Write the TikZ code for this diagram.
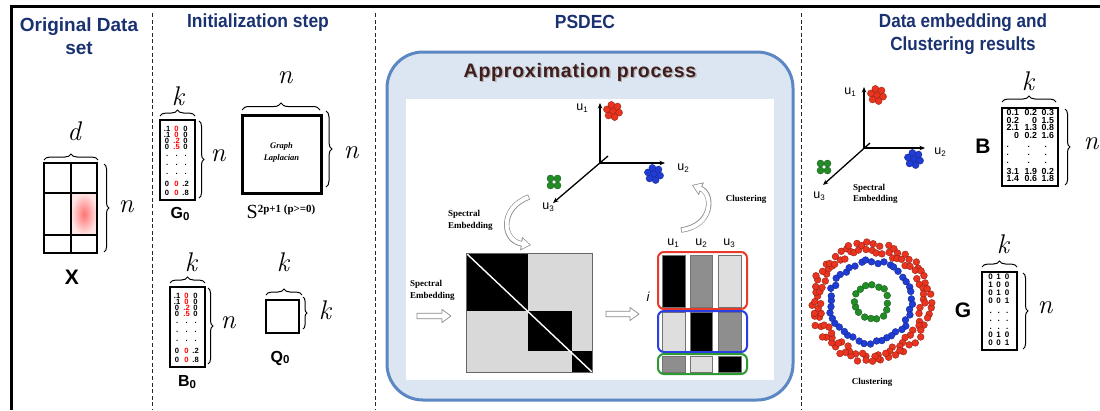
\documentclass[tikz,border=0pt]{standalone}
\usepackage{graphicx}
\usepackage{fontspec}
\setmainfont{Liberation Sans}
\newfontfamily\tnr{Liberation Serif}
\newfontfamily\lmit{Latin Modern Roman}
\newfontfamily\apfont[LetterSpace=4]{Liberation Sans}
\usetikzlibrary{arrows.meta,decorations.pathreplacing,calc}

\definecolor{titleblue}{HTML}{1B3272}
\definecolor{panelfill}{HTML}{DCE6F2}
\definecolor{panelline}{HTML}{5B87C2}
\definecolor{apbrown}{HTML}{3F1D1D}
\definecolor{ptred}{HTML}{EA3420}
\definecolor{ptblue}{HTML}{1F3DD6}
\definecolor{ptgreen}{HTML}{218E25}
\definecolor{bargray}{HTML}{8E8E8E}
\definecolor{barlight}{HTML}{DEDEDE}
\definecolor{blocklight}{HTML}{D9D9D9}
\definecolor{arrgray}{HTML}{8A8A8A}
\definecolor{grpred}{HTML}{E8392A}
\definecolor{grpblue}{HTML}{2B3FE0}
\definecolor{grpgreen}{HTML}{2E9A34}

\newcommand\redv[1]{\textcolor{red}{#1}}
\newcommand\usub[1]{\raisebox{-2.2pt}{\fontsize{8}{8}\selectfont #1}}
\newcommand\bsub[1]{\raisebox{-1.5pt}{\fontsize{11.5}{11.5}\selectfont #1}}

% seven-dot cluster and four-dot cluster
\newcommand\clusterseven[3]{%
  \node[cdot, fill=#3, draw=#3!60!black] (#1-0) at #2 {};
  \foreach \a [count=\j] in {15,75,...,315}
    \node[cdot, fill=#3, draw=#3!60!black] (#1-\j) at ($#2+(\a:6.3)$) {};
}
\newcommand\clusterfour[3]{%
  \foreach \dx/\dy [count=\j] in {-3.5/-3.5,3.5/-3.5,-3.5/3.5,3.5/3.5}
    \node[cdot, fill=#3, draw=#3!60!black] (#1-\j) at ($#2+(\dx,\dy)$) {};
}
% entries of the n x k initial matrices
\newcommand\initrows[1]{%
  \foreach \a/\b/\c/\yy [count=\i] in {.1/\redv{0}/0/10, .1/\redv{0}/0/16, 0/\redv{.2}/0/22, 0/\redv{.5}/0/28, ./././37, ./././46, ./././55, 0/\redv{0}/.2/65.7, 0/\redv{0}/.8/73.8}{%
    \node[ent] (#1-\i-1) at ($(#1.north west)+(8.5,\yy)$) {\a};
    \node[ent] (#1-\i-2) at ($(#1.north west)+(18,\yy)$) {\b};
    \node[ent] (#1-\i-3) at ($(#1.north west)+(27,\yy)$) {\c};
  }%
}
% hollow block arrow between two points on one horizontal line
\newcommand\hollowarr[2]{%
  \path[hollow] let \p1=(#1), \p2=(#2) in
    (\x1,\y1+2.8pt) -- (\x2-9pt,\y1+2.8pt) -- (\x2-9pt,\y1+6.5pt) -- (\x2,\y1)
    -- (\x2-9pt,\y1-6.5pt) -- (\x2-9pt,\y1-2.8pt) -- (\x1,\y1-2.8pt) -- cycle;
}

\begin{document}
\begin{tikzpicture}[x=1pt,y=-1pt,
  title/.style={font=\bfseries\fontsize{19}{22.5}\selectfont, text=titleblue, align=center, inner sep=0},
  sep/.style={line width=0.9pt, dash pattern=on 4pt off 2.6pt, black!85},
  matbox/.style={draw, line width=2.8pt, inner sep=0, fill=white},
  brc/.style={decorate, decoration={brace, amplitude=#1}, line width=1pt},
  brc/.default=5pt,
  mlbl/.style={font=\lmit\itshape\fontsize{27}{27}\selectfont, inner sep=0},
  ent/.style={font=\bfseries\fontsize{7.6}{7.6}\selectfont, inner sep=0},
  entb/.style={font=\bfseries\fontsize{8.8}{8.8}\selectfont, inner sep=0, anchor=east},
  entg/.style={font=\bfseries\fontsize{8}{8}\selectfont, inner sep=0},
  biglbl/.style={font=\bfseries\fontsize{21}{21}\selectfont, inner sep=0},
  sublbl/.style={font=\bfseries\fontsize{16}{16}\selectfont, inner sep=0},
  serlbl/.style={font=\tnr\bfseries\fontsize{9}{12}\selectfont, inner sep=0, align=left},
  ulbl/.style={font=\fontsize{12.5}{12.5}\selectfont, inner sep=0},
  axis/.style={line width=1.3pt, -{Stealth[length=5.5pt,width=4.5pt]}},
  dotp/.style={circle, inner sep=0, minimum size=6.8pt, line width=0.35pt},
  cdot/.style={circle, inner sep=0, minimum size=7pt, line width=0.35pt},
  hollow/.style={draw=arrgray, fill=white, line width=0.7pt, line join=round},
  bar/.style={draw=black!55, line width=0.5pt},
  grp/.style={line width=2pt, rounded corners=6pt, minimum width=89pt, inner sep=0},
]
\useasboundingbox (0,0) rectangle (1100,410);
\fill[white] (0,0) rectangle (1100,410);

% ---------- frame and column separators ----------
\draw[line width=3.5pt] (11.5,410) -- (11.5,6.5) -- (1100,6.5);
\draw[sep] (152,13) -- (152,410);
\draw[sep] (375,13) -- (375,410);
\draw[sep] (801,13) -- (801,410);

% ---------- original data set ----------
\node[title] (t1) at (79,36) {Original Data\\set};
\shade[inner color=red!55!white, outer color=red!10!white] (71,193) rectangle (97,235);
\node[draw, line width=2.5pt, inner sep=0, minimum width=53pt, minimum height=90pt] (X) at (70.5,208) {};
\draw[line width=2.5pt] (71,163) -- (71,253);
\draw[line width=2.5pt] (44,193) -- (97,193);
\draw[line width=2.5pt] (44,235) -- (97,235);
\draw[brc=6pt] (44,160) -- (98,160);
\node[mlbl] (dX) at (74,131) {d};
\draw[brc] (104,164) -- (104,252);
\node[mlbl] (nX) at (126,207) {n};
\node[biglbl] (Xl) at (72,277) {X};

% ---------- initialization step ----------
\node[title] (t2) at (258,23) {\scalebox{0.92}[1]{Initialization step}};

\node[matbox, minimum width=35pt, minimum height=80pt] (G0) at (177.5,160) {};
\initrows{G0}
\draw[brc=6pt] (160,116) -- (195,116);
\node[mlbl] (kG0) at (178,96) {k};
\draw[brc] (199,121) -- (199,198);
\node[mlbl] (nG0) at (218,156) {n};
\node[sublbl] (G0l) at (180,214) {G\bsub{0}};

\node[matbox, line width=3pt, minimum width=79pt, minimum height=78pt] (L) at (281.5,154) {};
\node[font=\tnr\bfseries\itshape\fontsize{8.5}{11.5}\selectfont, align=center, inner sep=0] (Lt) at (281.5,152.5) {Graph\\Laplacian};
\draw[brc=7pt] (242,110) -- (320,110);
\node[mlbl] (nLt) at (285,78) {n};
\draw[brc=6pt] (326,111) -- (326,187);
\node[mlbl] (nLr) at (351,153) {n};
\node[inner sep=0] (Sl) at (281,212) {\tnr\fontsize{20}{20}\selectfont S\raisebox{6pt}{\bfseries\fontsize{11}{11}\selectfont 2p+1 (p>=0)}};

\node[matbox, minimum width=35pt, minimum height=80pt] (B0) at (187.5,327) {};
\initrows{B0}
\draw[brc=6pt] (170,283) -- (205,283);
\node[mlbl] (kB0) at (191,262) {k};
\draw[brc] (208,288) -- (208,364);
\node[mlbl] (nB0) at (228,323) {n};
\node[sublbl] (B0l) at (187,382) {B\bsub{0}};

\node[matbox, minimum width=33pt, minimum height=33pt] (Q0) at (282.5,316.5) {};
\draw[brc=6pt] (266,295) -- (302,295);
\node[mlbl] (kQ0) at (283,262) {k};
\draw[brc=4pt] (303,297) -- (303,329);
\node[mlbl] (kQ0r) at (325,310) {k};
\node[sublbl] (Q0l) at (280,358) {Q\bsub{0}};

% ---------- PSDEC ----------
\node[title] (t3) at (585,22) {\scalebox{0.92}[1]{PSDEC}};
\node[draw=panelline, fill=panelfill, line width=3pt, rounded corners=36pt, minimum width=406pt, minimum height=348pt, inner sep=0] (panel) at (590,226) {};
\node[fill=white, minimum width=368pt, minimum height=281pt, inner sep=0] (canvas) at (590,239.5) {};
\node[font=\apfont\bfseries\fontsize{19.5}{19.5}\selectfont, text=black!30, inner sep=0] (apsh) at (581.3,73.7) {Approximation process};
\node[font=\apfont\bfseries\fontsize{19.5}{19.5}\selectfont, text=apbrown, inner sep=0] (ap) at (580,72) {Approximation process};

% embedding axes
\coordinate (O1) at (600,163);
\coordinate (O1x) at (608,156);
\coordinate (O1a) at (600,103);
\coordinate (O1b) at (665,163);
\coordinate (O1c) at (553,203);
\draw[axis] (O1) -- (O1a);
\draw[axis] (O1) -- (O1b);
\draw[axis] (O1x) -- (O1c);
\node[ulbl] (u1a) at (582,108) {u\usub{1}};
\node[ulbl] (u2a) at (683,168) {u\usub{2}};
\node[ulbl] (u3a) at (548,207) {u\usub{3}};
\clusterseven{rc1}{(613,111)}{ptred}
\clusterseven{bc1}{(654,174)}{ptblue}
\clusterfour{gc1}{(554,182)}{ptgreen}

% curved hollow arrows
\coordinate (ca1) at (529,197);
\coordinate (ca2) at (531,245);
\coordinate (cb1) at (681,230);
\coordinate (cb2) at (692,185);
\draw[line width=5.4pt, arrgray, -{Triangle[length=10pt,width=13pt]}] (ca1) .. controls (499,208) and (502,241) .. (ca2);
\draw[line width=3.9pt, white, shorten >=1.3pt, shorten <=0.7pt, -{Triangle[length=7.8pt,width=10.2pt]}] (ca1) .. controls (499,208) and (502,241) .. (ca2);
\draw[line width=5.4pt, arrgray, -{Triangle[length=10pt,width=13pt]}] (cb1) .. controls (713,226) and (714,194) .. (cb2);
\draw[line width=3.9pt, white, shorten >=1.3pt, shorten <=0.7pt, -{Triangle[length=7.8pt,width=10.2pt]}] (cb1) .. controls (713,226) and (714,194) .. (cb2);
\node[serlbl, anchor=west] (se1) at (448,220) {Spectral\\Embedding};
\node[serlbl] (cl1) at (746,199) {Clustering};

% affinity block matrix
\node[fill=blocklight, minimum width=125pt, minimum height=118pt, inner sep=0] (blk) at (529.5,313) {};
\fill (467,254) rectangle (528,311);
\fill (528,311) rectangle (572,351);
\fill (572,351) rectangle (592,372);
\draw[white, line width=1.4pt] (blk.north west) -- (blk.south east);
\draw[black!60, line width=0.8pt] (blk.north west) rectangle (blk.south east);

\node[serlbl, anchor=west] (se2) at (410,290) {Spectral\\Embedding};
\coordinate (ha1s) at (417,316);
\coordinate (ha1e) at (451,316);
\hollowarr{ha1s}{ha1e}
\coordinate (ha2s) at (606,314);
\coordinate (ha2e) at (639,314);
\hollowarr{ha2s}{ha2e}

% eigenvector columns
\foreach \xa/\xb/\ya/\yb/\col in {
  662/685/255/307/black, 690/712/255/307/bargray, 718/741/255/307/barlight,
  662/685/312/351/barlight, 690/712/312/351/black, 718/741/312/351/bargray,
  662/685/356/372/bargray, 690/712/356/372/barlight, 718/741/356/372/black}
  \filldraw[bar, fill=\col] (\xa,\ya) rectangle (\xb,\yb);
\node[grp, draw=grpred, minimum height=57pt] (gred) at (702.5,280.5) {};
\node[grp, draw=grpblue, minimum height=41pt] (gblue) at (702.5,331.5) {};
\node[grp, draw=grpgreen, minimum height=20pt] (ggreen) at (702.5,364) {};
\node[ulbl] (cu1) at (673,243) {u\usub{1}};
\node[ulbl] (cu2) at (701,243) {u\usub{2}};
\node[ulbl] (cu3) at (729,243) {u\usub{3}};
\node[font=\itshape\fontsize{13}{13}\selectfont, inner sep=0] (il) at (648,297) {i};

% ---------- results ----------
\node[title] (t4) at (963,34) {\scalebox{0.9}[1]{Data embedding and}\\\scalebox{0.9}[1]{Clustering results}};

\coordinate (O2) at (864,148);
\coordinate (O2x) at (870,143);
\coordinate (O2a) at (864,87);
\coordinate (O2b) at (925,148);
\coordinate (O2c) at (823,185);
\draw[axis] (O2) -- (O2a);
\draw[axis] (O2) -- (O2b);
\draw[axis] (O2x) -- (O2c);
\node[ulbl] (u1b) at (850,92) {u\usub{1}};
\node[ulbl] (u2b) at (940,152) {u\usub{2}};
\node[ulbl] (u3b) at (819,196) {u\usub{3}};
\clusterseven{rc2}{(877,95)}{ptred}
\clusterseven{bc2}{(914,159)}{ptblue}
\clusterfour{gc2}{(824,167)}{ptgreen}
\node[serlbl, anchor=west, font=\tnr\bfseries\fontsize{9}{11}\selectfont] (se3) at (853,193.5) {Spectral\\Embedding};

\node[matbox, minimum width=56pt, minimum height=78pt] (B) at (1030,147) {};
\foreach \a/\b/\c/\yy [count=\i] in {0.1/0.2/0.3/6, 0.2/0/1.5/13.5, 2.1/1.3/0.8/21, 0/0.2/1.6/28.5, 3.1/1.9/0.2/64.5, 1.4/0.6/1.8/71.5}{
  \node[entb] (B-\i-1) at ($(B.north west)+(18.5,\yy)$) {\a};
  \node[entb] (B-\i-2) at ($(B.north west)+(36.5,\yy)$) {\b};
  \node[entb] (B-\i-3) at ($(B.north west)+(53.5,\yy)$) {\c};
}
\foreach \yy [count=\i] in {40,48,56}{
  \node[entg] (Bd-\i-1) at ($(B.north west)+(7,\yy)$) {.};
  \node[entg] (Bd-\i-2) at ($(B.north west)+(28,\yy)$) {.};
  \node[entg] (Bd-\i-3) at ($(B.north west)+(45,\yy)$) {.};
}
\draw[brc=6pt] (1002,102) -- (1056,102);
\node[mlbl] (kB) at (1028,81) {k};
\draw[brc] (1065,109) -- (1065,185);
\node[mlbl] (nB) at (1091,144) {n};
\node[biglbl] (Bl) at (983,146) {B};

% concentric clusters
\coordinate (ringc) at (871,302);
\pgfmathsetseed{5}
\foreach \i in {1,...,118}{
  \pgfmathsetmacro\ang{\i*3.05+rnd*5}
  \pgfmathsetmacro\rad{49+6.5*mod(\i,2)+rnd*5.5}
  \node[dotp, fill=ptred, draw=ptred!60!black] (rr\i) at ($(ringc)+(\ang:\rad)$) {};
}
\foreach \i in {1,...,44}{
  \pgfmathsetmacro\ang{\i*8.18+rnd*4}
  \pgfmathsetmacro\rad{38.5+rnd*4}
  \node[dotp, fill=ptblue, draw=ptblue!60!black] (br\i) at ($(ringc)+(\ang:\rad)$) {};
}
\foreach \i in {1,...,16}{
  \pgfmathsetmacro\ang{\i*22.5+rnd*6}
  \pgfmathsetmacro\rad{16+rnd*3}
  \node[dotp, fill=ptgreen, draw=ptgreen!60!black] (gr\i) at ($(ringc)+(\ang:\rad)$) {};
}
\node[serlbl] (cl2) at (872,382) {Clustering};

\node[matbox, minimum width=35pt, minimum height=78pt] (G) at (999.5,311) {};
\foreach \a/\b/\c/\yy [count=\i] in {0/1/0/6, 1/0/0/14, 0/1/0/22, 0/0/1/30, ./././42, ./././50, ./././58, 0/1/0/64, 0/0/1/72}{
  \node[entg] (G-\i-1) at ($(G.north west)+(10,\yy)$) {\a};
  \node[entg] (G-\i-2) at ($(G.north west)+(18,\yy)$) {\b};
  \node[entg] (G-\i-3) at ($(G.north west)+(26.5,\yy)$) {\c};
}
\draw[brc=6pt] (982,267) -- (1017,267);
\node[mlbl] (kG) at (1003,244) {k};
\draw[brc] (1023,273) -- (1023,349);
\node[mlbl] (nG) at (1045,308) {n};
\node[biglbl] (Gl) at (963,310) {G};
\end{tikzpicture}
\end{document}
